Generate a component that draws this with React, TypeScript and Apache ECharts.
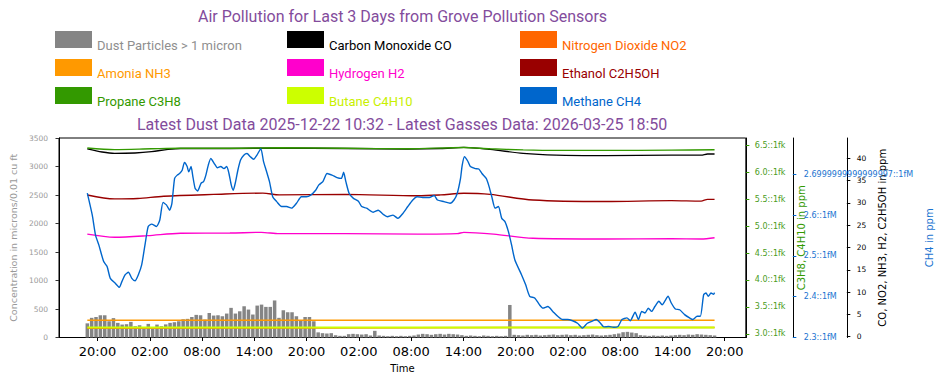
import React, { useEffect, useRef } from "react";
import * as echarts from "echarts";

const TITLE = "Air Pollution for Last 3 Days from Grove Pollution Sensors";
const SUBTITLE = "Latest Dust Data 2025-12-22 10:32 - Latest Gasses Data: 2026-03-25 18:50";
const PURPLE = "#834c9c";

// hours since 2026-03-22 00:00
const xTickHours = [20, 26, 32, 38, 44, 50, 56, 62, 68, 74, 80, 86, 92];
const leftTicks = [0, 500, 1000, 1500, 2000, 2500, 3000, 3500];
const greenTicks = [3.0, 3.5, 4.0, 4.5, 5.0, 5.5, 6.0, 6.5];
const greenTickLabels = ["3.0::1fk", "3.5::1fk", "4.0::1fk", "4.5::1fk", "5.0::1fk", "5.5::1fk", "6.0::1fk", "6.5::1fk"];
const blueTicks = [2.3, 2.4, 2.5, 2.6, 2.7];
const blueTickLabels = ["2.3::1fM", "2.4::1fM", "2.5::1fM", "2.6::1fM", "2.6999999999999997::1fM"];
const blackTicks = [0, 5, 10, 15, 20, 25, 30, 35, 40];

const dustStartHour = 18.83;
const dustStepHours = 0.5;
const dustValues = [
  248, 345, 360, 390, 390, 285, 340, 257, 227, 233, 274, 198, 215, 150, 239, 152, 227, 198, 230, 257,
  268, 285, 320, 327, 360, 397, 390, 315, 430, 385, 390, 373, 420, 520, 420, 460, 548, 490, 403, 560,
  577, 537, 537, 650, 345, 478, 443, 443, 373, 300, 360, 360, 285, 90,
  76, 70, 76, 40, 29, 29, 58, 64, 58, 52, 58, 35, 117, 35, 29, 23, 29, 23, 29, 23,
  29, 35, 52, 64, 58, 47, 58, 64, 52, 64, 58, 52, 41, 29, 35, 29, 23, 35, 29, 23,
  29, 23, 29, 571, 47, 41, 35, 47, 41, 47, 35, 41, 47, 52, 41, 47, 52, 41, 47, 35,
  41, 47, 52, 41, 35, 41, 47, 58, 70, 93, 99, 87, 76, 41, 35, 29, 35, 29, 35, 29,
  35, 41, 47, 41, 52, 47, 58, 52, 47, 41, 35,
];

const methane: [number, number][] = [
  [18.83, 2.654], [19.4, 2.6], [19.77, 2.551], [20.15, 2.527], [20.71, 2.486], [21.1, 2.474], [21.47, 2.445],
  [22.04, 2.433], [22.5, 2.423], [22.8, 2.437], [23.18, 2.454], [23.55, 2.46], [23.94, 2.445], [24.31, 2.439],
  [24.69, 2.454], [25.07, 2.478], [25.45, 2.527], [25.82, 2.572], [26.21, 2.578], [26.77, 2.572], [27.15, 2.588],
  [27.52, 2.631], [27.91, 2.625], [28.28, 2.612], [28.54, 2.629], [28.85, 2.69], [29.15, 2.698], [29.42, 2.702],
  [29.72, 2.71], [29.98, 2.729], [30.29, 2.719], [30.47, 2.706], [30.74, 2.719], [30.92, 2.698], [31.2, 2.666],
  [31.49, 2.659], [31.88, 2.678], [32.17, 2.682], [32.44, 2.698], [32.71, 2.722], [33.01, 2.739], [33.39, 2.727],
  [33.76, 2.716], [34.15, 2.719], [34.52, 2.714], [34.83, 2.719], [35.09, 2.702], [35.35, 2.674], [35.58, 2.661],
  [35.85, 2.682], [36.11, 2.71], [36.42, 2.735], [36.79, 2.747], [37.16, 2.751], [37.55, 2.743], [37.92, 2.737],
  [38.3, 2.747], [38.75, 2.763], [39.06, 2.731], [39.36, 2.71], [39.74, 2.682], [40.11, 2.645], [40.57, 2.633],
  [41.13, 2.621], [41.7, 2.621], [42.27, 2.617], [42.84, 2.629], [43.4, 2.645], [43.97, 2.645], [44.47, 2.649],
  [45.04, 2.661], [45.41, 2.674], [45.87, 2.682], [46.35, 2.702], [46.92, 2.698], [47.49, 2.692], [47.99, 2.69],
  [48.25, 2.705], [48.51, 2.682], [48.89, 2.653], [49.38, 2.641], [49.95, 2.634], [50.32, 2.621], [50.89, 2.617],
  [51.65, 2.607], [52.22, 2.612], [52.78, 2.602], [53.27, 2.596], [53.92, 2.6], [54.49, 2.592], [55.05, 2.604],
  [55.62, 2.621], [56.19, 2.637], [56.68, 2.645], [57.32, 2.643], [58.08, 2.643], [58.65, 2.648], [59.02, 2.637],
  [59.78, 2.633], [60.47, 2.629], [60.92, 2.637], [61.29, 2.653], [61.67, 2.69], [61.86, 2.722], [62.12, 2.743],
  [62.51, 2.732], [62.8, 2.719], [63.37, 2.714], [63.76, 2.713], [64.13, 2.702], [64.62, 2.69], [64.89, 2.674],
  [65.26, 2.645], [65.64, 2.617], [66.02, 2.621], [66.4, 2.592], [66.77, 2.584], [67.16, 2.56], [67.53, 2.527],
  [67.91, 2.49], [68.67, 2.454], [69.15, 2.429], [69.61, 2.401], [70.18, 2.397], [70.74, 2.38], [71.13, 2.372],
  [71.7, 2.376], [72.26, 2.364], [72.83, 2.352], [73.4, 2.344], [73.96, 2.344], [74.53, 2.341], [75.1, 2.335],
  [75.67, 2.323], [76.23, 2.335], [76.8, 2.34], [77.25, 2.344], [77.74, 2.335], [78.12, 2.326], [78.68, 2.327],
  [79.25, 2.325], [79.75, 2.327], [80.2, 2.344], [80.77, 2.348], [81.15, 2.341], [81.71, 2.362], [82.09, 2.344],
  [82.47, 2.364], [82.85, 2.36], [83.22, 2.372], [83.61, 2.364], [83.98, 2.376], [84.44, 2.389], [84.81, 2.38],
  [85.12, 2.389], [85.49, 2.401], [85.88, 2.384], [86.33, 2.37], [86.82, 2.368], [87.39, 2.356], [87.96, 2.348],
  [88.33, 2.344], [88.83, 2.352], [89.2, 2.352], [89.58, 2.405], [89.85, 2.409], [90.11, 2.401], [90.42, 2.409],
  [90.72, 2.406], [90.83, 2.41],
];

const carbonMonoxide: [number, number][] = [
  [18.83, 42.1], [20.53, 41.4], [21.96, 41.1], [24.31, 41.2], [26.21, 41.5], [28.09, 42.0], [29.53, 42.2],
  [35.2, 42.2], [40.87, 42.3], [48.44, 42.2], [55.62, 42.1], [59.4, 42.2], [62.05, 42.45], [65.07, 42.0],
  [68.86, 41.1], [72.64, 40.7], [78.31, 40.6], [85.88, 40.7], [89.28, 40.7], [90.03, 40.95], [90.83, 40.95],
];
const propane: [number, number][] = [
  [18.83, 6.445], [21.96, 6.415], [26.21, 6.43], [29.53, 6.44], [35.2, 6.44], [40.87, 6.45], [48.44, 6.44],
  [55.62, 6.43], [62.05, 6.455], [65.07, 6.43], [68.86, 6.41], [72.64, 6.4], [78.31, 6.4], [85.88, 6.405],
  [90.83, 6.413],
];
const ethanol: [number, number][] = [
  [18.83, 31.77], [21.96, 30.9], [24.62, 31.0], [27.6, 31.5], [33.31, 31.9], [38.98, 32.2], [40.87, 31.8],
  [48.44, 31.9], [56.76, 31.6], [59.4, 31.8], [62.05, 32.15], [65.07, 31.9], [69.99, 30.65], [78.31, 30.3],
  [85.88, 30.5], [89.28, 30.4], [90.03, 30.8], [90.83, 30.8],
];
const hydrogen: [number, number][] = [
  [18.83, 23.0], [21.96, 22.3], [25.75, 22.65], [29.53, 23.2], [35.2, 23.25], [38.8, 23.4], [40.87, 23.1],
  [48.44, 23.1], [56.76, 23.0], [61.29, 23.1], [62.05, 23.4], [65.46, 23.0], [69.99, 22.06], [78.31, 21.9],
  [85.88, 21.97], [89.28, 21.9], [90.83, 22.2],
];
const ammonia: [number, number][] = [[18.83, 3.7], [45, 3.7], [68, 3.7], [90.83, 3.7]];
const nitrogenDioxide: [number, number][] = [[18.83, 1.9], [45, 1.95], [68, 2.05], [90.83, 2.05]];
const butane: [number, number][] = [[18.83, 3.12], [45, 3.12], [68, 3.12], [90.83, 3.12]];

const C = {
  dust: "#858585",
  dustText: "#8f8f8f",
  co: "#000000",
  no2: "#ff6600",
  nh3: "#ff9900",
  h2: "#ff00cc",
  eth: "#990000",
  c3h8: "#339900",
  c4h10: "#ccff00",
  ch4: "#0066cc",
};

const N = {
  dust: "Dust Particles > 1 micron",
  co: "Carbon Monoxide CO",
  no2: "Nitrogen Dioxide NO2",
  nh3: "Amonia NH3",
  h2: "Hydrogen H2",
  eth: "Ethanol C2H5OH",
  c3h8: "Propane C3H8",
  c4h10: "Butane C4H10",
  ch4: "Methane CH4",
};

function pickLabel(ticks: number[], labels: string[], v: number) {
  const i = ticks.findIndex((t) => Math.abs(t - v) < 1e-6);
  return i >= 0 ? labels[i] : "";
}

function hourLabel(v: number) {
  const h = ((Math.round(v) % 24) + 24) % 24;
  return String(h).padStart(2, "0") + ":00";
}

export default function App() {
  const ref = useRef<HTMLDivElement>(null);
  useEffect(() => {
    document.body.style.margin = "0";
    if (!ref.current) return;
    const chart = echarts.init(ref.current, undefined, { renderer: "svg" });
    const axisFont = "DejaVu Sans";
    const line = (name: string, color: string, yAxisIndex: number, data: [number, number][], smooth: number, z: number, width = 1.4) => ({
      type: "line",
      name,
      yAxisIndex,
      data,
      symbol: "none",
      showSymbol: false,
      smooth,
      z,
      lineStyle: { color, width },
      itemStyle: { color },
    });
    const legendCommon = {
      orient: "vertical",
      icon: "rect",
      itemWidth: 37,
      itemHeight: 17,
      itemGap: 7,
      selectedMode: false,
      padding: 0,
      formatter: (name: string) => "{t|" + name + "}",
      textStyle: {
        fontFamily: "Roboto",
        fontSize: 13,
        rich: { t: { fontFamily: "Roboto", fontSize: 13, padding: [12, 0, 0, 0] } },
      },
    };
    const li = (key: keyof typeof N, color: string) => ({ name: N[key], textStyle: { color } });
    const dustData = dustValues.map((v, i) => [dustStartHour + i * dustStepHours, v]);

    chart.setOption({
      animation: false,
      backgroundColor: "#ffffff",
      title: [
        { text: TITLE, left: 198, top: 8, padding: 0, textStyle: { color: PURPLE, fontSize: 16, fontWeight: "normal", fontFamily: "Roboto" } },
        { text: SUBTITLE, left: 137, top: 116, padding: 0, textStyle: { color: PURPLE, fontSize: 16, fontWeight: "normal", fontFamily: "Roboto" } },
      ],
      legend: [
        { ...legendCommon, left: 55, top: 31, data: [li("dust", C.dustText), li("nh3", C.nh3), li("c3h8", C.c3h8)] },
        { ...legendCommon, left: 287, top: 31, data: [li("co", C.co), li("h2", C.h2), li("c4h10", "#c8f000")] },
        { ...legendCommon, left: 520, top: 31, data: [li("no2", C.no2), li("eth", C.eth), li("ch4", C.ch4)] },
      ],
      grid: { left: 57, right: 190, top: 138, bottom: 47.5, show: true, borderColor: "#000", borderWidth: 1, backgroundColor: "transparent" },
      xAxis: {
        type: "value",
        min: 15.58,
        max: 94.42,
        splitLine: { show: false },
        axisLine: { show: true, lineStyle: { color: "#000" } },
        axisTick: { customValues: xTickHours, length: 3.5, lineStyle: { color: "#000" } },
        axisLabel: { customValues: xTickHours, formatter: hourLabel, fontSize: 13, fontFamily: axisFont, color: "#000", margin: 7 },
        name: "Time",
        nameLocation: "middle",
        nameGap: 26,
        nameTextStyle: { fontSize: 10, fontFamily: axisFont, color: "#000" },
      },
      yAxis: [
        {
          type: "value",
          position: "left",
          min: 0,
          max: 3500,
          interval: 500,
          splitLine: { show: false },
          axisLine: { show: true, lineStyle: { color: "#000" } },
          axisTick: { show: true, length: 3.5, lineStyle: { color: "#333" } },
          axisLabel: { customValues: leftTicks, formatter: (v: number) => String(v), fontSize: 7.5, fontFamily: axisFont, color: "#999", margin: 11 },
          name: "Concentration in microns/0.01 cu ft",
          nameLocation: "middle",
          nameRotate: 90,
          nameGap: 41,
          nameTextStyle: { fontSize: 9.5, fontFamily: axisFont, color: "#999" },
        },
        {
          type: "value",
          position: "right",
          offset: 0,
          min: 2.935,
          max: 6.63,
          splitLine: { show: false },
          axisLine: { show: true, lineStyle: { color: "#000" } },
          axisTick: { show: true, customValues: greenTicks, length: 3.5, lineStyle: { color: C.c3h8 } },
          axisLabel: {
            customValues: greenTicks,
            formatter: (v: number) => pickLabel(greenTicks, greenTickLabels, v),
            fontSize: 8,
            fontFamily: axisFont,
            color: "#4a9c1c",
            margin: 9,
          },
          name: "C3H8, C4H10 in ppm",
          nameLocation: "middle",
          nameRotate: 90,
          nameGap: 43,
          nameTextStyle: { fontSize: 10, fontFamily: axisFont, color: C.c3h8 },
        },
        {
          type: "value",
          position: "right",
          offset: 47,
          min: 2.3,
          max: 2.789,
          splitLine: { show: false },
          axisLine: { show: true, lineStyle: { color: "#000" } },
          axisTick: { show: true, customValues: blueTicks, length: 3.5, lineStyle: { color: C.ch4 } },
          axisLabel: {
            customValues: blueTicks,
            formatter: (v: number) => pickLabel(blueTicks, blueTickLabels, v),
            fontSize: 8,
            fontFamily: axisFont,
            color: "#1a73d0",
            margin: 11,
          },
          name: "CH4 in ppm",
          nameLocation: "middle",
          nameRotate: 90,
          nameGap: 123,
          nameTextStyle: { fontSize: 10, fontFamily: axisFont, color: "#1a73d0" },
        },
        {
          type: "value",
          position: "right",
          offset: 101,
          min: -0.18,
          max: 44.55,
          splitLine: { show: false },
          axisLine: { show: true, lineStyle: { color: "#000" } },
          axisTick: { show: true, customValues: blackTicks, length: 3.5, lineStyle: { color: "#000" } },
          axisLabel: { customValues: blackTicks, fontSize: 7.5, fontFamily: axisFont, color: "#000", margin: 10 },
          name: "CO, NO2, NH3, H2, C2H5OH in ppm",
          nameLocation: "middle",
          nameRotate: 90,
          nameGap: 23,
          nameTextStyle: { fontSize: 10, fontFamily: axisFont, color: "#000" },
        },
      ],
      series: [
        { type: "bar", name: N.dust, yAxisIndex: 0, data: dustData, barWidth: 3.5, z: 1, itemStyle: { color: C.dust } },
        line(N.co, C.co, 3, carbonMonoxide, 0.3, 3),
        line(N.no2, C.no2, 3, nitrogenDioxide, 0, 3),
        line(N.nh3, C.nh3, 3, ammonia, 0, 3),
        line(N.h2, C.h2, 3, hydrogen, 0.3, 3),
        line(N.eth, C.eth, 3, ethanol, 0.3, 3),
        line(N.c3h8, C.c3h8, 1, propane, 0.3, 4),
        line(N.c4h10, C.c4h10, 1, butane, 0, 4, 2),
        line(N.ch4, C.ch4, 2, methane, 0.2, 5),
      ],
    });
    return () => chart.dispose();
  }, []);
  return <div ref={ref} style={{ width: 942, height: 385 }} />;
}
